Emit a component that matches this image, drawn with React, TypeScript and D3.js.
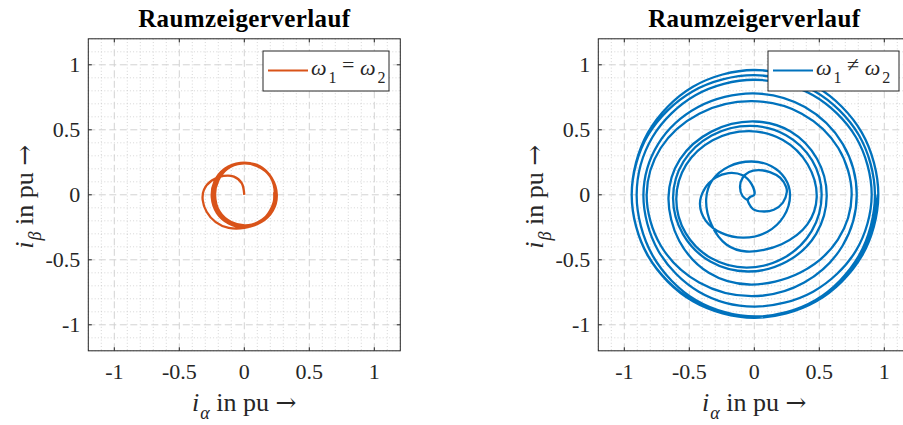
import React from 'react';
import * as d3 from 'd3';

const W = 903;
const H = 425;

const tickValues = [-1, -0.5, 0, 0.5, 1];
const tickLabels = ['-1', '-0.5', '0', '0.5', '1'];
const axisDomain = [-1.2, 1.2];
const titleText = 'Raumzeigerverlauf';

// omega1 = omega2
const leftTrace: [number, number][] = [
  [0, 0], [-0.02, 0.09], [-0.08, 0.14], [-0.16, 0.145], [-0.25, 0.11], [-0.31, 0.04], [-0.32, -0.04],
  [-0.29, -0.13], [-0.22, -0.21], [-0.12, -0.255], [0.0, -0.255], [0.12, -0.21], [0.2, -0.12],
  [0.235, 0.0], [0.2, 0.14], [0.1, 0.225], [-0.03, 0.245], [-0.15, 0.2], [-0.23, 0.1], [-0.25, -0.02],
  [-0.21, -0.14], [-0.12, -0.22], [0.0, -0.25], [0.13, -0.21], [0.22, -0.12], [0.25, 0.0], [0.21, 0.13],
  [0.12, 0.22], [0.0, 0.245], [-0.13, 0.21], [-0.21, 0.12], [-0.235, 0.0], [-0.2, -0.13], [-0.11, -0.21],
  [0.01, -0.235], [0.13, -0.2], [0.21, -0.11], [0.24, 0.01], [0.2, 0.14], [0.1, 0.22], [-0.02, 0.24],
  [-0.13, 0.2], [-0.2, 0.11], [-0.225, 0.0], [-0.19, -0.13], [-0.1, -0.21], [0.02, -0.235], [0.14, -0.19],
  [0.22, -0.09], [0.23, 0.02],
];

// omega1 != omega2
const rightTrace: [number, number][] = [
  [-0.045, -0.045], [-0.09, -0.01], [-0.11, 0.06], [-0.09, 0.13], [-0.04, 0.175], [0.03, 0.19],
  [0.12, 0.175], [0.2, 0.13], [0.245, 0.06], [0.25, 0.02], [0.22, -0.06], [0.15, -0.115], [0.06, -0.128],
  [-0.01, -0.11], [-0.04, -0.07], [-0.05, -0.04], [-0.03, -0.015], [0.0, 0.0],
  [-0.02, 0.08], [-0.09, 0.15], [-0.2, 0.167], [-0.3, 0.13], [-0.38, 0.05],
  [-0.418, -0.07], [-0.373, -0.2], [-0.249, -0.295],
  [-0.08, -0.33], [0.098, -0.286], [0.227, -0.165],
  [0.275, 0.0], [0.235, 0.128], [0.128, 0.222],
  [-0.02, 0.256], [-0.195, 0.218], [-0.323, 0.113],
  [-0.37, -0.03], [-0.328, -0.233], [-0.215, -0.382],
  [-0.06, -0.436], [0.21, -0.38], [0.408, -0.228],
  [0.48, -0.02], [0.41, 0.235], [0.22, 0.422],
  [-0.04, 0.49], [-0.32, 0.42], [-0.525, 0.23],
  [-0.6, -0.03], [-0.528, -0.295], [-0.33, -0.489],
  [-0.06, -0.56], [0.229, -0.485], [0.441, -0.28],
  [0.518, 0.0], [0.445, 0.265], [0.244, 0.459],
  [-0.03, 0.53], [-0.328, 0.456], [-0.545, 0.255],
  [-0.625, -0.02], [-0.548, -0.305], [-0.338, -0.514],
  [-0.05, -0.59], [0.254, -0.512], [0.476, -0.3],
  [0.557, -0.01], [0.482, 0.277], [0.279, 0.487],
  [0.0, 0.564], [-0.33, 0.486], [-0.572, 0.272],
  [-0.66, -0.02], [-0.577, -0.355], [-0.35, -0.6],
  [-0.04, -0.69], [0.355, -0.598], [0.643, -0.345],
  [0.749, 0.0], [0.646, 0.36], [0.365, 0.624],
  [-0.02, 0.72], [-0.424, 0.624], [-0.72, 0.36],
  [-0.828, 0.0], [-0.72, -0.39], [-0.424, -0.675],
  [-0.02, -0.78], [0.384, -0.675], [0.68, -0.39],
  [0.788, 0.0], [0.681, 0.39], [0.389, 0.675],
  [-0.01, 0.78], [-0.432, 0.675], [-0.74, 0.39],
  [-0.853, 0.0], [-0.739, -0.43], [-0.427, -0.745],
  [0.0, -0.86], [0.452, -0.745], [0.782, -0.43],
  [0.903, 0.0], [0.782, 0.443], [0.452, 0.766],
  [0.0, 0.885], [-0.453, 0.766], [-0.784, 0.443],
  [-0.905, 0.0], [-0.782, -0.468], [-0.448, -0.811],
  [0.01, -0.936], [0.469, -0.811], [0.805, -0.468],
  [0.928, 0.0], [0.804, 0.46], [0.464, 0.797],
  [0.0, 0.92], [-0.472, 0.797], [-0.817, 0.46],
  [-0.943, 0.0], [-0.817, -0.473], [-0.472, -0.819],
  [0.0, -0.946], [0.477, -0.819], [0.826, -0.473],
  [0.954, 0.0], [0.826, 0.48], [0.477, 0.831],
  [0.0, 0.96], [-0.472, 0.831], [-0.817, 0.48],
  [-0.943, 0.0], [-0.817, -0.47], [-0.472, -0.814],
  [0.0, -0.94], [0.475, -0.814], [0.823, -0.47],
  [0.95, 0.0],
];

const FONT = '"Liberation Serif", "Times New Roman", serif';
const ARROW_FONT = '"DejaVu Serif", serif';
const AX = '#262626';

type PanelDef = {
  id: string;
  x0: number;
  trace: [number, number][];
  color: string;
  relation: string;
  legendX: number;
  legendW: number;
};

const panels: PanelDef[] = [
  { id: 'l', x0: 88.3, trace: leftTrace, color: '#D95319', relation: '=', legendX: 263, legendW: 126 },
  { id: 'r', x0: 598.3, trace: rightTrace, color: '#0072BD', relation: '\u2260', legendX: 768, legendW: 131 },
];

const SIZE = 312;
const TOP = 38.8;

function Panel({ p }: { p: PanelDef }) {
  const x = d3.scaleLinear().domain(axisDomain).range([p.x0, p.x0 + SIZE]);
  const y = d3.scaleLinear().domain(axisDomain).range([TOP + SIZE, TOP]);
  const minor = x.ticks(24).filter((v) => !tickValues.some((t) => Math.abs(t - v) < 1e-6));
  const line = d3
    .line<[number, number]>()
    .x((d) => x(d[0]))
    .y((d) => y(d[1]))
    .curve(d3.curveCatmullRom.alpha(0.5));
  const cx = p.x0 + SIZE / 2;
  const cy = TOP + SIZE / 2;
  const x1 = p.x0, x2 = p.x0 + SIZE, y1 = TOP, y2 = TOP + SIZE;
  const tl = 3.5;
  return (
    <g>
      <defs>
        <clipPath id={'clip-' + p.id}>
          <rect x={x1} y={y1} width={SIZE} height={SIZE} />
        </clipPath>
      </defs>
      <rect x={x1} y={y1} width={SIZE} height={SIZE} fill="#ffffff" />
      {minor.map((v) => (
        <g key={'m' + v}>
          <line x1={x(v)} x2={x(v)} y1={y1} y2={y2} stroke="#c4c4c4" strokeWidth={0.7} strokeDasharray="1,2.2" />
          <line y1={y(v)} y2={y(v)} x1={x1} x2={x2} stroke="#c4c4c4" strokeWidth={0.7} strokeDasharray="1,2.2" />
        </g>
      ))}
      {tickValues.map((v) => (
        <g key={'g' + v}>
          <line x1={x(v)} x2={x(v)} y1={y1} y2={y2} stroke="#d2d2d2" strokeWidth={1} strokeDasharray="7,3.5" />
          <line y1={y(v)} y2={y(v)} x1={x1} x2={x2} stroke="#d2d2d2" strokeWidth={1} strokeDasharray="7,3.5" />
        </g>
      ))}
      <path
        d={line(p.trace) || ''}
        fill="none"
        stroke={p.color}
        strokeWidth={2.3}
        strokeLinejoin="round"
        clipPath={`url(#clip-${p.id})`}
      />
      <rect x={x1} y={y1} width={SIZE} height={SIZE} fill="none" stroke={AX} strokeWidth={1} />
      {tickValues.map((v) => (
        <g key={'t' + v} stroke={AX} strokeWidth={1}>
          <line x1={x(v)} x2={x(v)} y1={y2} y2={y2 - tl} />
          <line x1={x(v)} x2={x(v)} y1={y1} y2={y1 + tl} />
          <line y1={y(v)} y2={y(v)} x1={x1} x2={x1 + tl} />
          <line y1={y(v)} y2={y(v)} x1={x2} x2={x2 - tl} />
        </g>
      ))}
      {tickValues.map((v, i) => (
        <text key={'xl' + v} x={x(v)} y={379} textAnchor="middle" fontSize={22} fill={AX} fontFamily={FONT}>
          {tickLabels[i]}
        </text>
      ))}
      {tickValues.map((v, i) => (
        <text key={'yl' + v} x={x1 - 8} y={y(v) + 7.5} textAnchor="end" fontSize={22} fill={AX} fontFamily={FONT}>
          {tickLabels[i]}
        </text>
      ))}
      <text
        x={cx}
        y={27}
        textAnchor="middle"
        fontSize={25}
        fontWeight="bold"
        letterSpacing={0.4}
        fill="#000"
        fontFamily={FONT}
      >
        {titleText}
      </text>
      <text x={cx} y={411} textAnchor="middle" fontSize={26} fill={AX} fontFamily={FONT}>
        <tspan fontStyle="italic">i</tspan>
        <tspan fontStyle="italic" fontSize={18} dy={8} dx={1}>{'\u03b1'}</tspan>
        <tspan dy={-8}>{' in pu '}</tspan>
        <tspan fontFamily={ARROW_FONT} fontSize={25}>{'\u2192'}</tspan>
      </text>
      <text
        transform={`translate(${p.x0 - 55},${cy + 2}) rotate(-90)`}
        textAnchor="middle"
        fontSize={26}
        fill={AX}
        fontFamily={FONT}
      >
        <tspan fontStyle="italic">i</tspan>
        <tspan fontStyle="italic" fontSize={18} dy={8} dx={1}>{'\u03b2'}</tspan>
        <tspan dy={-8}>{' in pu '}</tspan>
        <tspan fontFamily={ARROW_FONT} fontSize={25}>{'\u2192'}</tspan>
      </text>
      <rect x={p.legendX} y={51} width={p.legendW} height={40} fill="#ffffff" stroke={AX} strokeWidth={1} />
      <line x1={p.legendX + 5} x2={p.legendX + 45} y1={70.5} y2={70.5} stroke={p.color} strokeWidth={2} />
      <text x={p.legendX + 48} y={75} fontSize={22} fill={AX} fontFamily={FONT}>
        <tspan fontStyle="italic">{'\u03c9'}</tspan>
        <tspan fontSize={16} dy={8} dx={2}>1</tspan>
        <tspan dy={-11}>{' ' + p.relation + ' '}</tspan>
        <tspan fontStyle="italic" dy={3}>{'\u03c9'}</tspan>
        <tspan fontSize={16} dy={8} dx={2}>2</tspan>
      </text>
    </g>
  );
}

export default function App() {
  return (
    <svg
      width={W}
      height={H}
      viewBox={`0 0 ${W} ${H}`}
      style={{ position: 'absolute', left: 0, top: 0, background: '#fff' }}
    >
      <rect x={0} y={0} width={W} height={H} fill="#fff" />
      {panels.map((p) => (
        <Panel key={p.id} p={p} />
      ))}
    </svg>
  );
}
